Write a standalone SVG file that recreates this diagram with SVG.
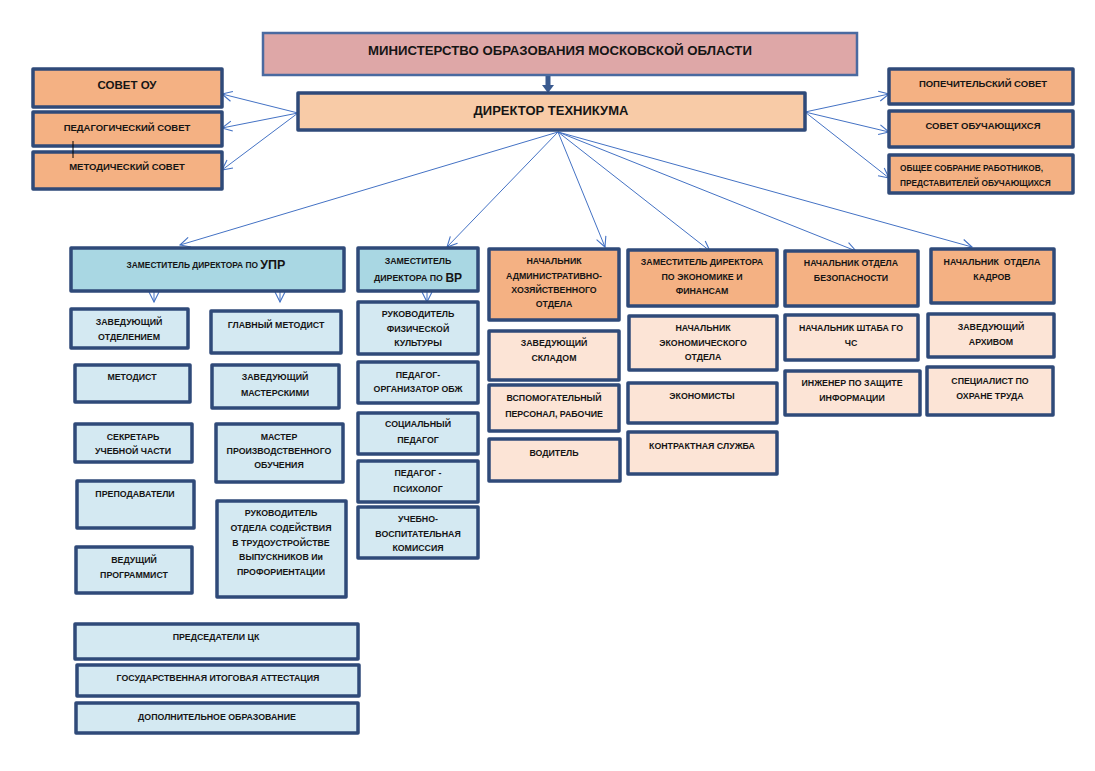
<svg xmlns="http://www.w3.org/2000/svg" width="1095" height="771" viewBox="0 0 1095 771">
<style>
.b{stroke:#2f4a79;stroke-width:3.5;stroke-linejoin:round}
.org{fill:#f4b183}
.pch{fill:#fce4d6}
.lb{fill:#d4e9f2}
.mb{fill:#a9d7e3}
text{font-family:"Liberation Sans",Arial,sans-serif;font-weight:bold;font-size:8.8px;fill:#151515;text-anchor:middle;dominant-baseline:central}
.c{stroke:#4472c4;stroke-width:1;fill:none;marker-end:url(#ah)}
</style>
<defs>
<marker id="ah" markerUnits="userSpaceOnUse" markerWidth="14" markerHeight="14" viewBox="0 0 14 14" refX="12" refY="7" orient="auto">
<path d="M2,2 L12,7 L2,12" fill="none" stroke="#4472c4" stroke-width="1.1"/>
</marker>
</defs>
<rect width="1095" height="771" fill="#ffffff"/>

<g id="connectors">
<rect x="545.5" y="75" width="5" height="11" fill="#3a5a8f"/>
<polygon points="542,85 554,85 548,93" fill="#3a5a8f"/>
<line class="c" x1="298" y1="113" x2="222" y2="94"/>
<line class="c" x1="298" y1="113" x2="222" y2="128"/>
<line class="c" x1="298" y1="113" x2="222" y2="170"/>
<line class="c" x1="805" y1="112" x2="889" y2="94"/>
<line class="c" x1="805" y1="112" x2="889" y2="132"/>
<line class="c" x1="805" y1="112" x2="889" y2="178"/>
<line class="c" x1="558" y1="132" x2="180" y2="245"/>
<line class="c" x1="558" y1="132" x2="447" y2="247"/>
<line class="c" x1="558" y1="132" x2="605" y2="247"/>
<line class="c" x1="558" y1="132" x2="710" y2="251"/>
<line class="c" x1="558" y1="132" x2="856" y2="251"/>
<line class="c" x1="558" y1="132" x2="972" y2="247"/>
<line class="c" x1="154" y1="291" x2="154" y2="302"/>
<line class="c" x1="280" y1="291" x2="280" y2="302"/>
<line class="c" x1="427" y1="291" x2="427" y2="302"/>
</g>

<g id="ministry"><rect x="263" y="33" width="594" height="42" fill="#dea7a7" stroke="#4a6aa0" stroke-width="2.5"/><text x="560" y="50" style="font-size:13.2px">МИНИСТЕРСТВО ОБРАЗОВАНИЯ МОСКОВСКОЙ ОБЛАСТИ</text></g>
<g id="director"><rect class="b" x="298" y="93" width="507" height="37" fill="#f8cba7"/><text x="551" y="110" style="font-size:13px">ДИРЕКТОР ТЕХНИКУМА</text></g>

<g id="sovet_ou"><rect class="b org" x="33" y="69" width="189" height="38"/><text x="127" y="85" style="font-size:11.5px">СОВЕТ ОУ</text></g>
<g id="ped_sovet"><rect class="b org" x="33" y="112" width="189" height="34"/><text x="127" y="127" style="font-size:9.5px">ПЕДАГОГИЧЕСКИЙ СОВЕТ</text></g>
<g id="met_sovet"><rect class="b org" x="33" y="152" width="189" height="37"/><text x="127" y="166" style="font-size:9.5px">МЕТОДИЧЕСКИЙ СОВЕТ</text></g>

<g id="popech"><rect class="b org" x="889" y="69" width="184" height="35"/><text x="983" y="83" style="font-size:9.5px">ПОПЕЧИТЕЛЬСКИЙ СОВЕТ</text></g>
<g id="sovet_obuch"><rect class="b org" x="889" y="111" width="184" height="36"/><text x="983" y="125" style="font-size:9.5px">СОВЕТ ОБУЧАЮЩИХСЯ</text></g>
<g id="obshee"><rect class="b org" x="889" y="155" width="184" height="38"/><text x="900" y="168" style="font-size:8.3px;text-anchor:start">ОБЩЕЕ СОБРАНИЕ РАБОТНИКОВ,</text><text x="900" y="183" style="font-size:8.3px;text-anchor:start">ПРЕДСТАВИТЕЛЕЙ ОБУЧАЮЩИХСЯ</text></g>

<g id="zam_upr"><rect class="b mb" x="71" y="248" width="273" height="43"/><text x="206" y="265"><tspan style="font-size:8.4px">ЗАМЕСТИТЕЛЬ ДИРЕКТОРА ПО </tspan><tspan style="font-size:12.5px">УПР</tspan></text></g>
<g id="zam_vr"><rect class="b mb" x="358" y="248" width="120" height="43"/><text x="418" y="261">ЗАМЕСТИТЕЛЬ</text><text x="418" y="278"><tspan>ДИРЕКТОРА ПО </tspan><tspan style="font-size:12px">ВР</tspan></text></g>
<g id="nach_aho"><rect class="b org" x="489" y="249" width="130" height="71"/><text x="554" y="261">НАЧАЛЬНИК</text><text x="554" y="276">АДМИНИСТРАТИВНО-</text><text x="554" y="290">ХОЗЯЙСТВЕННОГО</text><text x="554" y="304">ОТДЕЛА</text></g>
<g id="zam_econ"><rect class="b org" x="628" y="250" width="149" height="56"/><text x="702" y="262">ЗАМЕСТИТЕЛЬ ДИРЕКТОРА</text><text x="702" y="277">ПО ЭКОНОМИКЕ И</text><text x="702" y="291">ФИНАНСАМ</text></g>
<g id="nach_bez"><rect class="b org" x="785" y="251" width="133" height="55"/><text x="851" y="263">НАЧАЛЬНИК ОТДЕЛА</text><text x="851" y="278">БЕЗОПАСНОСТИ</text></g>
<g id="nach_kadr"><rect class="b org" x="931" y="249" width="123" height="54"/><text x="992" y="262" xml:space="preserve">НАЧАЛЬНИК  ОТДЕЛА</text><text x="992" y="277">КАДРОВ</text></g>

<g id="zav_otd"><rect class="b lb" x="71" y="309" width="117" height="39"/><text x="129" y="322">ЗАВЕДУЮЩИЙ</text><text x="129" y="337">ОТДЕЛЕНИЕМ</text></g>
<g id="gl_metod"><rect class="b lb" x="211" y="311" width="130" height="42"/><text x="276" y="325">ГЛАВНЫЙ МЕТОДИСТ</text></g>
<g id="metodist"><rect class="b lb" x="75" y="365" width="115" height="37"/><text x="132" y="377">МЕТОДИСТ</text></g>
<g id="zav_mast"><rect class="b lb" x="212" y="365" width="127" height="43"/><text x="275" y="377">ЗАВЕДУЮЩИЙ</text><text x="275" y="393">МАСТЕРСКИМИ</text></g>
<g id="sekretar"><rect class="b lb" x="75" y="424" width="117" height="38"/><text x="133" y="437">СЕКРЕТАРЬ</text><text x="133" y="451">УЧЕБНОЙ ЧАСТИ</text></g>
<g id="master"><rect class="b lb" x="216" y="424" width="127" height="58"/><text x="279" y="437">МАСТЕР</text><text x="279" y="451">ПРОИЗВОДСТВЕННОГО</text><text x="279" y="465">ОБУЧЕНИЯ</text></g>
<g id="prepod"><rect class="b lb" x="77" y="481" width="117" height="47"/><text x="135" y="494">ПРЕПОДАВАТЕЛИ</text></g>
<g id="ruk_trud"><rect class="b lb" x="217" y="501" width="129" height="96"/><text x="281" y="513">РУКОВОДИТЕЛЬ</text><text x="281" y="528">ОТДЕЛА СОДЕЙСТВИЯ</text><text x="281" y="543">В ТРУДОУСТРОЙСТВЕ</text><text x="281" y="557">ВЫПУСКНИКОВ Ии</text><text x="281" y="572">ПРОФОРИЕНТАЦИИ</text></g>
<g id="ved_prog"><rect class="b lb" x="76" y="547" width="116" height="46"/><text x="134" y="560">ВЕДУЩИЙ</text><text x="134" y="575">ПРОГРАММИСТ</text></g>
<g id="pred_ck"><rect class="b lb" x="75" y="624" width="283" height="35"/><text x="216" y="637">ПРЕДСЕДАТЕЛИ ЦК</text></g>
<g id="gia"><rect class="b lb" x="77" y="665" width="282" height="31"/><text x="218" y="678">ГОСУДАРСТВЕННАЯ ИТОГОВАЯ АТТЕСТАЦИЯ</text></g>
<g id="dop_obr"><rect class="b lb" x="76" y="703" width="282" height="30"/><text x="217" y="717">ДОПОЛНИТЕЛЬНОЕ ОБРАЗОВАНИЕ</text></g>

<g id="ruk_fiz"><rect class="b lb" x="358" y="302" width="120" height="52"/><text x="418" y="314">РУКОВОДИТЕЛЬ</text><text x="418" y="329">ФИЗИЧЕСКОЙ</text><text x="418" y="343">КУЛЬТУРЫ</text></g>
<g id="ped_org"><rect class="b lb" x="358" y="362" width="120" height="41"/><text x="418" y="375">ПЕДАГОГ-</text><text x="418" y="389">ОРГАНИЗАТОР ОБЖ</text></g>
<g id="soc_ped"><rect class="b lb" x="358" y="413" width="120" height="41"/><text x="418" y="424">СОЦИАЛЬНЫЙ</text><text x="418" y="440">ПЕДАГОГ</text></g>
<g id="ped_psih"><rect class="b lb" x="358" y="461" width="120" height="41"/><text x="418" y="473">ПЕДАГОГ -</text><text x="418" y="489">ПСИХОЛОГ</text></g>
<g id="uvk"><rect class="b lb" x="358" y="507" width="120" height="51"/><text x="418" y="519">УЧЕБНО-</text><text x="418" y="534">ВОСПИТАТЕЛЬНАЯ</text><text x="418" y="548">КОМИССИЯ</text></g>

<g id="zav_sklad"><rect class="b pch" x="489" y="331" width="130" height="49"/><text x="554" y="343">ЗАВЕДУЮЩИЙ</text><text x="554" y="358">СКЛАДОМ</text></g>
<g id="vspom"><rect class="b pch" x="489" y="385" width="130" height="46"/><text x="554" y="398">ВСПОМОГАТЕЛЬНЫЙ</text><text x="554" y="414">ПЕРСОНАЛ, РАБОЧИЕ</text></g>
<g id="voditel"><rect class="b pch" x="489" y="439" width="131" height="42"/><text x="554" y="453">ВОДИТЕЛЬ</text></g>

<g id="nach_econ"><rect class="b pch" x="629" y="316" width="148" height="54"/><text x="703" y="328">НАЧАЛЬНИК</text><text x="703" y="343">ЭКОНОМИЧЕСКОГО</text><text x="703" y="357">ОТДЕЛА</text></g>
<g id="economisty"><rect class="b pch" x="628" y="383" width="149" height="40"/><text x="702" y="396">ЭКОНОМИСТЫ</text></g>
<g id="kontrakt"><rect class="b pch" x="628" y="432" width="149" height="42"/><text x="702" y="446">КОНТРАКТНАЯ СЛУЖБА</text></g>

<g id="nach_shtab"><rect class="b pch" x="785" y="315" width="133" height="45"/><text x="851" y="328">НАЧАЛЬНИК ШТАБА ГО</text><text x="851" y="343">ЧС</text></g>
<g id="inzhener"><rect class="b pch" x="785" y="371" width="135" height="44"/><text x="852" y="383">ИНЖЕНЕР ПО ЗАЩИТЕ</text><text x="852" y="398">ИНФОРМАЦИИ</text></g>

<g id="zav_arhiv"><rect class="b pch" x="928" y="314" width="126" height="43"/><text x="991" y="327">ЗАВЕДУЮЩИЙ</text><text x="991" y="342">АРХИВОМ</text></g>
<g id="spec_ohr"><rect class="b pch" x="927" y="367" width="126" height="48"/><text x="990" y="381">СПЕЦИАЛИСТ ПО</text><text x="990" y="396">ОХРАНЕ ТРУДА</text></g>

<g id="stray_mark"><line x1="73" y1="141" x2="73" y2="158" stroke="#000" stroke-width="1"/></g>
</svg>
